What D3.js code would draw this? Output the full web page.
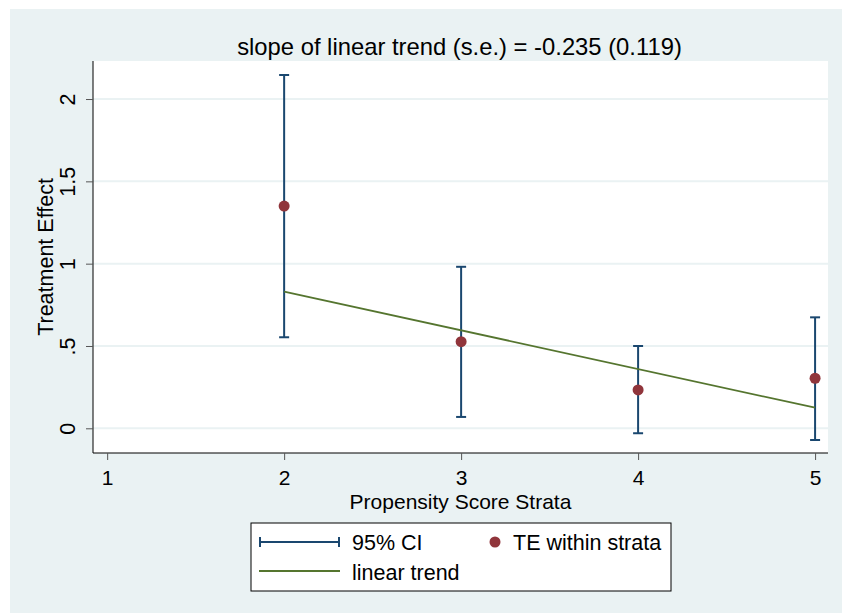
<!DOCTYPE html>
<html>
<head>
<meta charset="utf-8">
<script src="https://cdn.jsdelivr.net/npm/d3@7"></script>
<style>
  body { margin: 0; background: #fff; }
  text { font-family: "Liberation Sans", Arial, sans-serif; fill: #000; }
</style>
</head>
<body>
<div id="chart"></div>
<script>
// strata data
let strata = [2, 3, 4, 5];
let teEst = [1.35, 0.526, 0.233, 0.304];
let ciLow = [0.553, 0.069, -0.03, -0.071];
let ciHigh = [2.146, 0.981, 0.50, 0.674];
let trendX = [2, 5];
let trendY = [0.83, 0.125];

let xTicks = [1, 2, 3, 4, 5];
let yTicks = [0, 0.5, 1, 1.5, 2];
let yTickLabels = ["0", ".5", "1", "1.5", "2"];

let titleText = "slope of linear trend (s.e.) = -0.235 (0.119)";

let W = 842, H = 613;
let margin = {top: 61, right: 14, bottom: 160, left: 93};
let width = W - margin.left - margin.right,
    height = H - margin.top - margin.bottom;

let navy = "#1a476f", maroon = "#90353b", green = "#55752f", bg = "#eaf2f3";
let fs = "21.5px";

let svg = d3.select("#chart").append("svg")
    .attr("width", W)
    .attr("height", H);

// outer graph region
svg.append("rect")
    .attr("x", 10).attr("y", 9)
    .attr("width", W - 10).attr("height", H - 9)
    .attr("fill", bg);

let g = svg.append("g")
    .attr("transform", "translate(" + margin.left + "," + margin.top + ")");

g.append("rect")
    .attr("width", width).attr("height", height)
    .attr("fill", "#fff");

// scales
let x = d3.scaleLinear().domain([0.92, 5.073]).range([0, width]);
let y = d3.scaleLinear().domain([-0.15, 2.231]).range([height, 0]);

// grid lines
g.selectAll(".grid")
    .data(yTicks)
    .enter().append("line")
    .attr("class", "grid")
    .attr("x1", 0).attr("x2", width)
    .attr("y1", d => y(d)).attr("y2", d => y(d))
    .attr("stroke", bg)
    .attr("stroke-width", 2);

// axes
let yAxis = g.append("g")
    .call(d3.axisLeft(y).tickValues(yTicks).tickSize(7)
        .tickFormat((d, i) => yTickLabels[i]));
yAxis.select(".domain").attr("d", "M0,0V" + height).attr("stroke", "#000");
yAxis.selectAll(".tick line").attr("stroke", "#555");
yAxis.selectAll(".tick text")
    .attr("transform", "rotate(-90)")
    .attr("x", 0).attr("dy", 0)
    .attr("text-anchor", "middle")
    .attr("y", -18)
    .style("font-size", fs)
    .style("font-family", "Liberation Sans, Arial, sans-serif");

let xAxis = g.append("g")
    .attr("transform", "translate(0," + height + ")")
    .call(d3.axisBottom(x).tickValues(xTicks).tickSize(7).tickPadding(10)
        .tickFormat(d3.format("d")));
xAxis.select(".domain").attr("d", "M0,0H" + width).attr("stroke", "#000");
xAxis.selectAll(".tick line").attr("stroke", "#555");
xAxis.selectAll(".tick text")
    .style("font-size", "21px")
    .style("font-family", "Liberation Sans, Arial, sans-serif");

// confidence intervals
let ci = g.selectAll(".ci")
    .data(strata)
    .enter().append("g")
    .attr("class", "ci")
    .attr("stroke", navy)
    .attr("stroke-width", 2);
ci.append("line")
    .attr("x1", d => x(d)).attr("x2", d => x(d))
    .attr("y1", (d, i) => y(ciLow[i])).attr("y2", (d, i) => y(ciHigh[i]));
ci.append("line")
    .attr("x1", d => x(d) - 5).attr("x2", d => x(d) + 5)
    .attr("y1", (d, i) => y(ciLow[i])).attr("y2", (d, i) => y(ciLow[i]));
ci.append("line")
    .attr("x1", d => x(d) - 5).attr("x2", d => x(d) + 5)
    .attr("y1", (d, i) => y(ciHigh[i])).attr("y2", (d, i) => y(ciHigh[i]));

// trend line
let trendLine = d3.line()
    .x(d => x(d[0]))
    .y(d => y(d[1]));
g.append("path")
    .datum(trendX.map((d, i) => [d, trendY[i]]))
    .attr("d", trendLine)
    .attr("fill", "none")
    .attr("stroke", green)
    .attr("stroke-width", 1.8);

// point estimates
g.selectAll(".dot")
    .data(strata)
    .enter().append("circle")
    .attr("cx", d => x(d))
    .attr("cy", (d, i) => y(teEst[i]))
    .attr("r", 5.5)
    .attr("fill", maroon);

// titles
svg.append("text")
    .attr("x", margin.left + width / 2 - 1).attr("y", 55)
    .attr("text-anchor", "middle")
    .style("font-size", "23.8px")
    .text(titleText);

svg.append("text")
    .attr("x", margin.left + width / 2).attr("y", 509)
    .attr("text-anchor", "middle")
    .style("font-size", "21px")
    .text("Propensity Score Strata");

svg.append("text")
    .attr("transform", "translate(53," + (margin.top + height / 2) + ") rotate(-90)")
    .attr("text-anchor", "middle")
    .style("font-size", fs)
    .text("Treatment Effect");

// legend
let legend = svg.append("g");
legend.append("rect")
    .attr("x", 251).attr("y", 523)
    .attr("width", 420).attr("height", 68)
    .attr("fill", "#fff")
    .attr("stroke", "#000")
    .attr("stroke-width", 1);

let lg1 = legend.append("g").attr("stroke", navy).attr("stroke-width", 2);
lg1.append("line").attr("x1", 260).attr("x2", 339).attr("y1", 542).attr("y2", 542);
lg1.append("line").attr("x1", 260).attr("x2", 260).attr("y1", 537).attr("y2", 547);
lg1.append("line").attr("x1", 339).attr("x2", 339).attr("y1", 537).attr("y2", 547);
legend.append("text").attr("x", 352).attr("y", 550)
    .style("font-size", fs).text("95% CI");

legend.append("circle").attr("cx", 495).attr("cy", 542).attr("r", 5.5).attr("fill", maroon);
legend.append("text").attr("x", 513).attr("y", 550)
    .style("font-size", fs).text("TE within strata");

legend.append("line").attr("x1", 259).attr("x2", 340).attr("y1", 571).attr("y2", 571)
    .attr("stroke", green).attr("stroke-width", 1.8);
legend.append("text").attr("x", 352).attr("y", 580)
    .style("font-size", fs).text("linear trend");
</script>
</body>
</html>
